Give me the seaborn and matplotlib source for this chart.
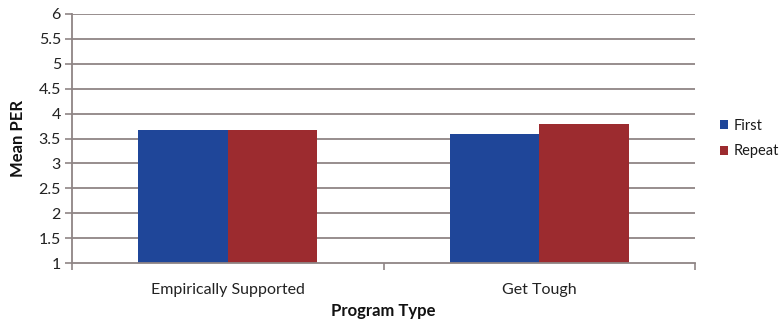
import matplotlib
matplotlib.use("Agg")
import matplotlib.pyplot as plt
import seaborn as sns
import pandas as pd

# Mean PER by program type and offender group
program_types = ["Empirically Supported", "Get Tough"]
groups = ["First", "Repeat"]
first_vals = [3.67, 3.59]
repeat_vals = [3.67, 3.80]
y_ticks = [1, 1.5, 2, 2.5, 3, 3.5, 4, 4.5, 5, 5.5, 6]
y_tick_labels = ["1", "1.5", "2", "2.5", "3", "3.5", "4", "4.5", "5", "5.5", "6"]

df = pd.DataFrame({
    "Program Type": program_types * 2,
    "Group": [groups[0]] * len(program_types) + [groups[1]] * len(program_types),
    "Mean PER": first_vals + repeat_vals,
})

sns.set_style("white")
plt.rcParams["font.family"] = ["Lato", "DejaVu Sans"]

fig = plt.figure(figsize=(7.83, 3.24), dpi=100)
ax = fig.add_axes([0.092, 0.188, 0.7956, 0.769])

palette = {"First": "#1f4699", "Repeat": "#9c2b2f"}
sns.barplot(data=df, x="Program Type", y="Mean PER", hue="Group",
            order=program_types, hue_order=groups, palette=palette,
            width=0.575, gap=0, saturation=1, ax=ax, zorder=3,
            edgecolor="none", linewidth=0)

ax.set_ylim(1, 6)
ax.set_xlim(-0.5, 1.5)
ax.set_yticks(y_ticks)
ax.set_yticklabels(y_tick_labels)

grid_color = "#8f8585"
for y in y_ticks[1:]:
    ax.axhline(y, color=grid_color, linewidth=1.3, zorder=1)

for side in ["top", "right"]:
    ax.spines[side].set_visible(False)
ax.spines["left"].set_color(grid_color)
ax.spines["bottom"].set_color(grid_color)
ax.spines["left"].set_linewidth(1.3)
ax.spines["bottom"].set_linewidth(1.3)
ax.spines["bottom"].set_zorder(4)

ax.tick_params(axis="y", which="major", direction="out", length=5,
               width=1.2, color=grid_color, labelsize=11.5, pad=3,
               left=True, labelcolor="#222222")
ax.tick_params(axis="x", which="major", length=0, labelsize=11.5, pad=14,
               labelcolor="#222222")
ax.set_xticks([-0.5, 0.5, 1.5], minor=True)
ax.tick_params(axis="x", which="minor", direction="out", length=5,
               width=1.2, color=grid_color, bottom=True)

ax.set_xlabel("Program Type", fontsize=12, fontweight="bold",
              color="#111111", labelpad=5)
ax.set_ylabel("Mean PER", fontsize=12, fontweight="bold",
              color="#111111", labelpad=9)

handles, labels = ax.get_legend_handles_labels()
leg = ax.legend(handles, labels, loc="center left", bbox_to_anchor=(1.03, 0.5),
                frameon=False, fontsize=10.5, handlelength=0.6, handleheight=0.6,
                handletextpad=0.35, labelspacing=0.8, borderaxespad=0)
for txt in leg.get_texts():
    txt.set_color("#1a1a1a")

fig.savefig("out.png", dpi=100)
